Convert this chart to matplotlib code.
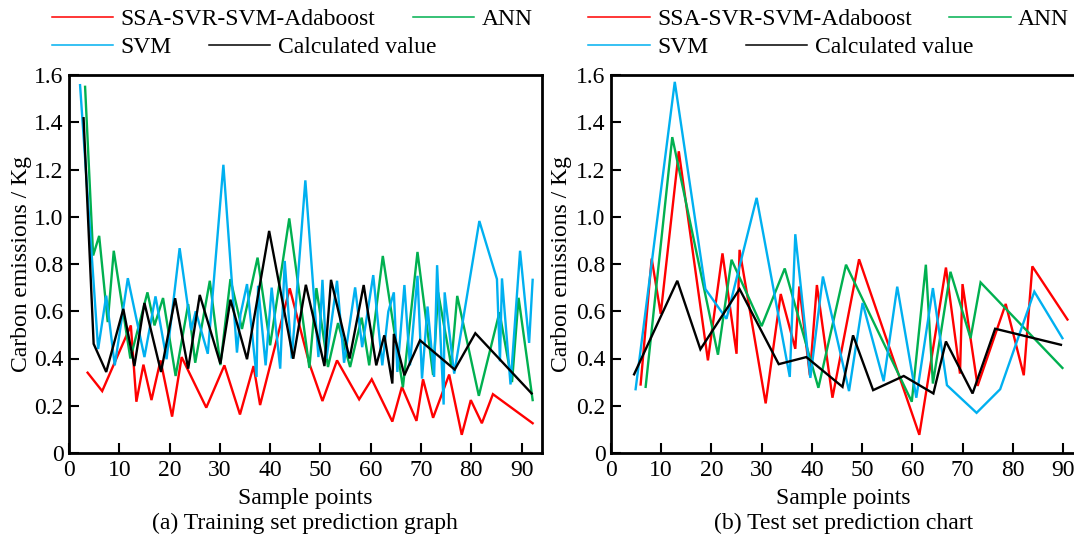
import matplotlib
matplotlib.use("Agg")
import matplotlib.pyplot as plt

plt.rcParams['font.family'] = ['Liberation Serif', 'DejaVu Serif']
plt.rcParams['font.size'] = 17

# ---------------- data: training set ----------------
train_ssa_x = [3.7, 6.6, 12.3, 13.4, 14.8, 16.4, 18.2, 20.5, 22.4, 27.3, 30.9, 34.0, 36.7, 38.0, 43.9,
               47.8, 50.4, 53.3, 57.7, 60.2, 64.3, 66.2, 69.1, 70.4, 72.4, 75.6, 78.1, 79.9, 82.1, 84.3, 92.2]
train_ssa_y = [0.34, 0.262, 0.54, 0.217, 0.374, 0.224, 0.392, 0.154, 0.406, 0.192, 0.371, 0.163, 0.368, 0.203, 0.697,
               0.378, 0.22, 0.392, 0.227, 0.312, 0.133, 0.28, 0.136, 0.312, 0.149, 0.332, 0.077, 0.224, 0.126, 0.249, 0.126]

train_ann_x = [3.2, 4.8, 6.0, 7.7, 8.9, 12.2, 15.6, 17.0, 18.7, 21.2, 23.7, 25.1, 28.0, 30.1, 32.1, 34.4, 37.5, 40.0,
               43.8, 47.8, 49.2, 51.5, 53.5, 55.9, 58.2, 59.7, 62.4, 66.4, 69.3, 72.4, 73.4, 76.0, 77.2, 81.5,
               85.6, 88.1, 89.4, 92.2]
train_ann_y = [1.55, 0.836, 0.919, 0.554, 0.856, 0.40, 0.68, 0.54, 0.656, 0.326, 0.63, 0.382, 0.729, 0.372, 0.736,
               0.525, 0.827, 0.456, 0.993, 0.36, 0.698, 0.364, 0.55, 0.364, 0.573, 0.371, 0.834, 0.278, 0.851, 0.33,
               0.68, 0.371, 0.665, 0.242, 0.596, 0.30, 0.657, 0.224]

train_svm_x = [2.2, 5.8, 7.4, 9.1, 11.7, 15.0, 17.2, 19.4, 22.0, 24.3, 25.2, 27.6, 30.7, 33.4, 34.1, 35.4, 37.3,
               37.6, 39.1, 40.3, 42.0, 42.9, 44.3, 47.0, 49.6, 50.4, 51.2, 53.3, 54.7, 56.9, 58.3, 60.5, 62.3, 63.5,
               64.6, 65.3, 66.7, 67.8, 69.3, 70.2, 71.3, 72.6, 73.2, 74.5, 74.7, 76.6, 81.6, 85.1, 85.7, 86.1,
               87.8, 89.7, 91.5, 92.2]
train_svm_y = [1.557, 0.44, 0.666, 0.371, 0.74, 0.406, 0.663, 0.397, 0.867, 0.52, 0.60, 0.42, 1.22, 0.425, 0.586,
               0.715, 0.322, 0.708, 0.371, 0.70, 0.357, 0.813, 0.40, 1.154, 0.406, 0.733, 0.399, 0.729, 0.382, 0.701,
               0.448, 0.753, 0.371, 0.599, 0.68, 0.343, 0.711, 0.371, 0.75, 0.315, 0.62, 0.322, 0.795, 0.205,
               0.68, 0.336, 0.982, 0.736, 0.388, 0.739, 0.29, 0.856, 0.466, 0.733]

train_calc_x = [2.9, 4.9, 7.4, 10.8, 13.0, 15.0, 18.3, 21.1, 23.7, 26.0, 30.1, 32.1, 35.4, 39.8, 44.6, 47.1,
                50.8, 52.1, 55.8, 58.6, 61.1, 62.7, 64.3, 64.6, 66.7, 69.8, 76.7, 80.8, 92.0]
train_calc_y = [1.417, 0.462, 0.343, 0.61, 0.368, 0.635, 0.343, 0.655, 0.357, 0.669, 0.378, 0.649, 0.397, 0.94,
                0.399, 0.712, 0.368, 0.733, 0.40, 0.711, 0.371, 0.498, 0.294, 0.504, 0.329, 0.477, 0.353, 0.507, 0.252]

# ---------------- data: test set ----------------
test_ssa_x = [5.9, 8.1, 9.9, 13.5, 19.3, 22.2, 25.0, 25.6, 30.8, 33.8, 36.7, 37.5, 39.6, 41.0, 44.1, 49.4,
              61.4, 66.7, 69.5, 70.0, 73.0, 78.6, 82.2, 83.9, 90.9]
test_ssa_y = [0.29, 0.823, 0.589, 1.277, 0.392, 0.845, 0.42, 0.86, 0.21, 0.673, 0.441, 0.705, 0.329, 0.711,
              0.234, 0.82, 0.077, 0.785, 0.336, 0.715, 0.284, 0.631, 0.329, 0.79, 0.565]

test_ann_x = [6.9, 12.2, 21.3, 24.0, 30.0, 34.6, 41.3, 46.8, 59.9, 62.7, 64.1, 67.6, 71.6, 73.6, 89.9]
test_ann_y = [0.28, 1.337, 0.416, 0.818, 0.537, 0.781, 0.276, 0.797, 0.217, 0.797, 0.294, 0.767, 0.486, 0.722, 0.36]

test_svm_x = [4.9, 12.7, 18.8, 23.0, 29.0, 35.6, 36.7, 39.7, 42.2, 47.4, 50.1, 54.3, 57.0, 60.8, 64.1, 66.9,
              72.8, 77.5, 84.3, 89.9]
test_svm_y = [0.27, 1.571, 0.694, 0.568, 1.08, 0.322, 0.926, 0.318, 0.747, 0.262, 0.635, 0.304, 0.704, 0.234,
              0.698, 0.287, 0.17, 0.27, 0.683, 0.486]

test_calc_x = [4.6, 13.2, 17.8, 25.6, 33.4, 38.9, 46.1, 48.2, 52.2, 58.3, 64.2, 66.7, 72.0, 76.5, 89.6]
test_calc_y = [0.333, 0.729, 0.439, 0.694, 0.376, 0.406, 0.28, 0.498, 0.266, 0.326, 0.252, 0.472, 0.252, 0.526, 0.458]

series_labels = ["SSA-SVR-SVM-Adaboost", "ANN", "SVM", "Calculated value"]
colors = ["#ff0000", "#00b050", "#00b0f0", "#000000"]
x_ticks = [0, 10, 20, 30, 40, 50, 60, 70, 80, 90]
y_ticks = [0, 0.2, 0.4, 0.6, 0.8, 1.0, 1.2, 1.4, 1.6]
y_ticklabels = ["0", "0.2", "0.4", "0.6", "0.8", "1.0", "1.2", "1.4", "1.6"]
titles = ["(a) Training set prediction graph", "(b) Test set prediction chart"]

W, H = 1074, 539
fig = plt.figure(figsize=(W / 100, H / 100), dpi=100)

def fx(px):
    return px / W

def fy(py):
    return 1 - py / H

ax1 = fig.add_axes([fx(69), fy(453), fx(541.7 - 69), 378 / H])
ax2 = fig.add_axes([fx(611), fy(453), fx(1076 - 611), 378 / H])

panels = [
    (ax1, [(train_ssa_x, train_ssa_y), (train_ann_x, train_ann_y), (train_svm_x, train_svm_y),
           (train_calc_x, train_calc_y)], 94.0, 51.7, -0.078),
    (ax2, [(test_ssa_x, test_ssa_y), (test_ann_x, test_ann_y), (test_svm_x, test_svm_y),
           (test_calc_x, test_calc_y)], 92.6, 588.3, -0.084),
]

for i, (ax, data, xmax, leg_x, ylab_x) in enumerate(panels):
    lines = []
    for (xs, ys), c, lab in zip(data, colors, series_labels):
        ln, = ax.plot(xs, ys, color=c, lw=1.7, label=lab, solid_joinstyle='miter')
        lines.append(ln)
    ax.set_xlim(0, xmax)
    ax.set_ylim(0, 1.6)
    ax.set_xticks(x_ticks)
    ax.set_yticks(y_ticks)
    ax.set_yticklabels(y_ticklabels)
    ax.tick_params(direction='in', length=7.5, width=1.5, top=False, right=False)
    ax.tick_params(axis='x', pad=5)
    ax.tick_params(axis='y', pad=4)
    for sp in ax.spines.values():
        sp.set_linewidth(2)
    ax.set_xlabel("Sample points")
    ax.xaxis.set_label_coords(0.5, -0.092)
    ax.set_ylabel("Carbon emissions / Kg")
    ax.yaxis.set_label_coords(ylab_x, 0.5)
    ax.text(0.5, -0.158, titles[i], transform=ax.transAxes, ha='center', va='top')

    common = dict(frameon=False, loc='center left', borderpad=0, borderaxespad=0,
                  handlelength=2.6, handletextpad=0.32, columnspacing=1.58,
                  bbox_transform=fig.transFigure, ncol=2)
    leg1 = ax.legend(handles=lines[:2], bbox_to_anchor=(fx(leg_x), fy(19)), **common)
    ax.add_artist(leg1)
    leg2 = ax.legend(handles=lines[2:], bbox_to_anchor=(fx(leg_x), fy(47.5)), **common)
    for lg in (leg1, leg2):
        for l in lg.get_lines():
            l.set_linewidth(1.1)

fig.savefig("out.png", dpi=100)
